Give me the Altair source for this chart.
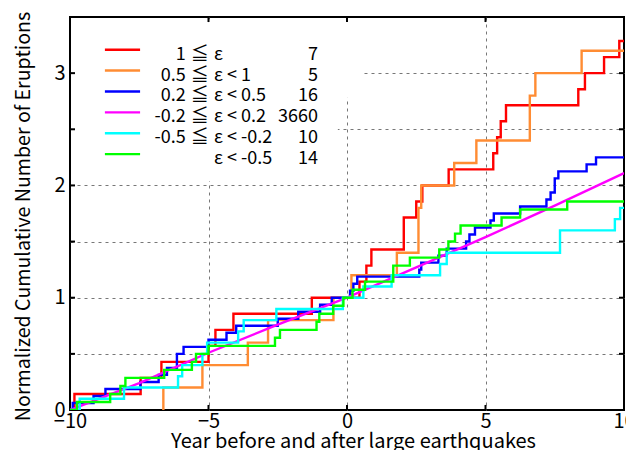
import altair as alt
import pandas as pd

FONT = "Noto Sans CJK JP"

# ---- data (normalized cumulative number of eruptions) ----
red_x = [-10, -9.84, -7.45, -6.7, -5.0, -4.75, -4.1, -1.27, 0.45, 0.7, 0.88, 2.05, 2.5, 2.72,
         3.67, 5.28, 5.42, 5.55, 5.74, 8.35, 8.59, 9.28, 9.83, 10]
red_y = [0, 0.143, 0.286, 0.429, 0.571, 0.714, 0.857, 1.0, 1.143, 1.286, 1.429, 1.714, 1.857, 2.0,
         2.143, 2.286, 2.429, 2.571, 2.714, 2.857, 3.0, 3.143, 3.286, 3.286]

orange_x = [-6.63, -6.63, -5.22, -3.58, -2.85, -0.49, 0.16, 1.8, 2.58, 2.68, 3.87, 4.67, 6.6, 6.8, 8.47, 10]
orange_y = [0, 0.2, 0.4, 0.6, 0.8, 1.0, 1.2, 1.4, 1.8, 2.0, 2.2, 2.4, 2.8, 3.0, 3.2, 3.2]

blue_x = [-10, -9.9, -9.15, -8.72, -7.46, -6.8, -6.5, -6.14, -5.9, -5.0, -4.35, -4.0, -2.5, -1.76,
          -0.97, -0.55, 0.11, 0.23, 0.37, 2.61, 2.68, 3.3, 3.6, 4.3, 4.42, 4.62, 5.18, 5.3, 6.25,
          7.2, 7.35, 7.5, 7.63, 8.65, 8.99, 10]
blue_y = [0, 0.0625, 0.125, 0.1875, 0.25, 0.3125, 0.375, 0.5, 0.5625, 0.625, 0.6875, 0.75, 0.8125,
          0.875, 0.9375, 1.0, 1.0625, 1.125, 1.1875, 1.25, 1.3125, 1.375, 1.4375, 1.5, 1.5625,
          1.625, 1.6875, 1.75, 1.8125, 1.875, 1.9375, 2.0625, 2.125, 2.1875, 2.25, 2.25]

magenta_x = [-10, -7.5, -5, -2.5, 0, 2.5, 5, 7.5, 10]
magenta_y = [0, 0.24, 0.51, 0.76, 1.0, 1.27, 1.54, 1.82, 2.11]

cyan_x = [-10, -9.65, -8.05, -6.1, -5.95, -5.22, -5.05, -3.93, -3.73, -2.55, -0.15, 0.59, 1.61,
          3.36, 3.6, 7.69, 9.67, 9.86, 10]
cyan_y = [0, 0.1, 0.2, 0.3, 0.4, 0.5, 0.6, 0.7, 0.8, 0.9, 1.0, 1.1, 1.2, 1.3, 1.4, 1.6, 1.7, 1.8, 1.8]

green_x = [-10, -9.75, -8.55, -8.18, -8.0, -6.6, -5.6, -5.45, -5.0, -2.6, -2.42, -1.1, -1.0, -0.5,
           -0.13, 0.2, 0.65, 1.67, 2.27, 3.33, 3.66, 3.9, 4.1, 5.58, 6.25, 7.95, 10]
green_y = [0, 0.071, 0.143, 0.214, 0.286, 0.357, 0.429, 0.5, 0.571, 0.643, 0.714, 0.786, 0.857,
           0.929, 1.0, 1.071, 1.143, 1.286, 1.357, 1.429, 1.5, 1.571, 1.643, 1.714, 1.786, 1.857, 1.857]

legend_left = ["1\u2007\u2007", "0.5", "0.2", "-0.2", "-0.5", ""]
legend_rel = ["≦", "≦", "≦", "≦", "≦", ""]
legend_right = ["ε", "ε < 1", "ε < 0.5", "ε < 0.2", "ε < -0.2", "ε < -0.5"]
legend_counts = ["7", "5", "16", "3660", "10", "14"]
colors = ["#ff0000", "#ff8c33", "#0000ff", "#ff00ff", "#00ffff", "#00ff00"]

x_ticks = [-10, -5, 0, 5, 10]
y_ticks = [0, 0.5, 1, 1.5, 2, 2.5, 3, 3.5]

# ---- scales / axes ----
XS = alt.Scale(domain=[-10, 10], nice=False, zero=False)
YS = alt.Scale(domain=[0, 3.5], nice=False, zero=False)
XA = alt.Axis(values=x_ticks, title="Year before and after large earthquakes",
              grid=True, gridDash=[3, 4], gridColor="#777", gridWidth=1,
              gridOpacity={"condition": {"test": "abs(datum.value) == 10", "value": 0}, "value": 1},
              domain=False, ticks=False, labelPadding=1, titlePadding=0, titleX=283,
              labelFlush=False, labelOverlap=False)
YA = alt.Axis(values=y_ticks, title="Normalized Cumulative Number of Eruptions",
              grid=True, gridDash=[3, 4], gridColor="#777", gridWidth=1,
              gridOpacity={"condition": {"test": "datum.value == 0 || datum.value == 3.5", "value": 0}, "value": 1},
              labelExpr="datum.value % 1 === 0 ? format(datum.value, 'd') : ''",
              domain=False, ticks=False, labelPadding=5, titlePadding=20, titleY=199,
              titleFontSize=19.6, labelFlush=False, labelOverlap=False)


def X(f="x"):
    return alt.X(f"{f}:Q", scale=XS, axis=XA)


def Y(f="y"):
    return alt.Y(f"{f}:Q", scale=YS, axis=YA)


layers = []

# white legend background (covers grid lines)
bg = pd.DataFrame({"x": [-9.93, -9.93], "x2": [0.54, -0.33], "y": [2.78, 2.04], "y2": [3.48, 2.78]})
layers.append(alt.Chart(bg).mark_rect(color="white").encode(x=X(), x2="x2", y=Y(), y2="y2"))

# inward ticks
xt = pd.DataFrame({"x": [-5, 0, 5, -5, 0, 5], "y": [0, 0, 0, 3.455, 3.455, 3.455],
                   "y2": [0.045, 0.045, 0.045, 3.5, 3.5, 3.5]})
layers.append(alt.Chart(xt).mark_rule(color="black", strokeWidth=2).encode(x=X(), y=Y(), y2="y2"))
yt_vals = [v for v in y_ticks if 0 < v < 3.5]
yt = pd.DataFrame({"y": yt_vals + yt_vals, "x": [-10] * len(yt_vals) + [9.82] * len(yt_vals),
                   "x2": [-9.82] * len(yt_vals) + [10] * len(yt_vals)})
layers.append(alt.Chart(yt).mark_rule(color="black", strokeWidth=2).encode(x=X(), x2="x2", y=Y()))

# curves
curves = [(red_x, red_y), (orange_x, orange_y), (blue_x, blue_y), (magenta_x, magenta_y),
          (cyan_x, cyan_y), (green_x, green_y)]
for i, ((xs, ys), col) in enumerate(zip(curves, colors)):
    df = pd.DataFrame({"x": xs, "y": ys})
    interp = "linear" if i == 3 else "step-after"
    layers.append(alt.Chart(df).mark_line(interpolate=interp, strokeWidth=2.4, color=col, clip=True)
                  .encode(x=X(), y=Y()))

# legend
top_text_y = 3.164
step = 0.186
rows = list(range(len(colors)))
leg = pd.DataFrame({
    "row": rows,
    "ty": [top_text_y - step * r for r in rows],
    "ly": [top_text_y - step * r + 0.045 for r in rows],
    "left": legend_left, "rel": legend_rel, "right": legend_right, "count": legend_counts,
    "color": colors,
})
leg["lx1"] = -8.74
leg["lx2"] = -7.47
layers.append(alt.Chart(leg).mark_rule(strokeWidth=2.4).encode(
    x=X("lx1"), x2="lx2", y=Y("ly"), color=alt.Color("color:N", scale=None)))
text_kw = dict(font=FONT, fontSize=18, baseline="middle", color="black")
for field, xpos, al in [("left", -5.82, "right"), ("rel", -5.64, "left"),
                        ("right", -4.8, "left"), ("count", -1.05, "right")]:
    layers.append(alt.Chart(leg).mark_text(align=al, **text_kw)
                  .encode(x=alt.X("tx:Q", scale=XS, axis=XA), y=Y("ty"), text=f"{field}:N")
                  .transform_calculate(tx=str(xpos)))

chart = alt.layer(*layers).properties(
    width=554, height=393, autosize="none", background="white",
    padding={"left": 62, "top": 9, "right": 2, "bottom": 40},
).configure_view(stroke="black", strokeWidth=2).configure_axis(
    labelFont=FONT, titleFont=FONT, labelFontSize=20, titleFontSize=20,
    labelColor="black", titleColor="black", titleFontWeight="normal",
)

chart.save("out.html", embed_options={"renderer": "svg", "actions": False})
